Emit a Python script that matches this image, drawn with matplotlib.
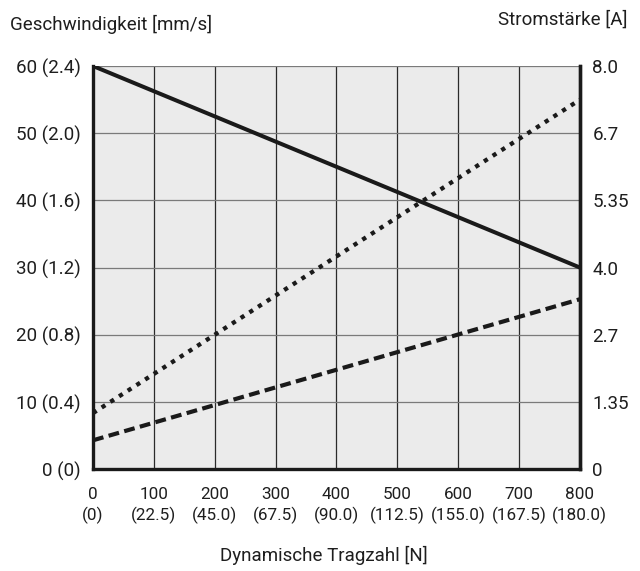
import matplotlib.pyplot as plt

# Data
load_n = [0, 800]                       # Dynamische Tragzahl [N]
speed = [60, 30]                        # Geschwindigkeit [mm/s]
current_dotted = [1.11, 7.33]           # Stromstärke [A]
current_dashed = [0.57, 3.37]           # Stromstärke [A]

x_ticks = [0, 100, 200, 300, 400, 500, 600, 700, 800]
x_sub = ['(0)', '(22.5)', '(45.0)', '(67.5)', '(90.0)', '(112.5)', '(155.0)', '(167.5)', '(180.0)']
left_ticks = [0, 10, 20, 30, 40, 50, 60]
left_labels = ['0 (0)', '10 (0.4)', '20 (0.8)', '30 (1.2)', '40 (1.6)', '50 (2.0)', '60 (2.4)']
right_labels = ['0', '1.35', '2.7', '4.0', '5.35', '6.7', '8.0']

plt.rcParams['font.family'] = ['Roboto', 'DejaVu Sans']
plt.rcParams['font.size'] = 13.5
ink = '#1e1e1e'

fig = plt.figure(figsize=(6.4, 5.71), dpi=100)
ax = fig.add_axes([0.1453, 0.1786, 0.7607, 0.7058])
ax.set_facecolor('#ebebeb')

ax.set_xlim(0, 800)
ax.set_ylim(0, 60)
ax.set_xticks(x_ticks)
ax.set_xticklabels([f'{t}\n{s}' for t, s in zip(x_ticks, x_sub)], linespacing=1.35, fontsize=12.3)
ax.set_yticks(left_ticks)
ax.set_yticklabels(left_labels)
ax.tick_params(length=0, pad=9, colors=ink)
ax.tick_params(axis='x', pad=13)

for x in x_ticks[1:-1]:
    ax.axvline(x, color='#2a2a2a', lw=0.9, zorder=1)
for y in left_ticks[1:]:
    ax.axhline(y, color='#7a7a7a', lw=0.9, zorder=1)

ax.spines['top'].set_visible(False)
for s in ['left', 'right', 'bottom']:
    ax.spines[s].set_linewidth(2.4)
    ax.spines[s].set_color('#1a1a1a')

ax.plot(load_n, speed, color='#1a1a1a', lw=2.9, solid_capstyle='butt', zorder=3)

ax2 = ax.twinx()
ax2.set_ylim(0, 8)
ax2.set_yticks([i * 8 / 6 for i in range(7)])
ax2.set_yticklabels(right_labels)
ax2.tick_params(length=0, pad=9, colors=ink)
for s in ['top', 'left', 'bottom']:
    ax2.spines[s].set_visible(False)
ax2.spines['right'].set_linewidth(2.4)
ax2.spines['right'].set_color('#1a1a1a')

ax2.plot(load_n, current_dotted, color='#1a1a1a', lw=3.1, dashes=(1, 1.4), zorder=3)
ax2.plot(load_n, current_dashed, color='#1a1a1a', lw=3.0, dashes=(2.6, 1.3), zorder=3)

fig.text(0.016, 0.958, 'Geschwindigkeit [mm/s]', ha='left', va='center', color=ink)
fig.text(0.981, 0.965, 'Stromstärke [A]', ha='right', va='center', color=ink)
fig.text(0.506, 0.027, 'Dynamische Tragzahl [N]', ha='center', va='center', color=ink)

fig.savefig('out.png', dpi=100)
